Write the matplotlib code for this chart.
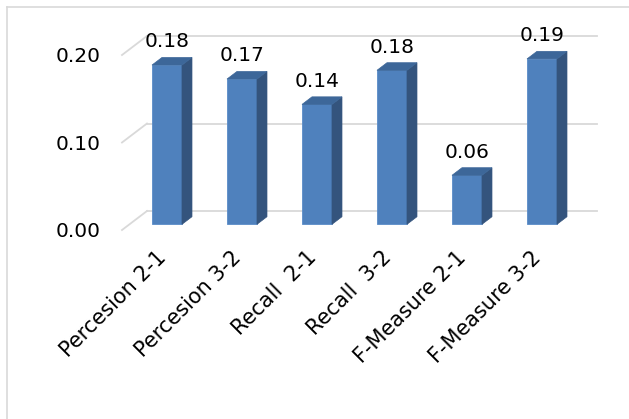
import numpy as np
import matplotlib
matplotlib.use("Agg")
import matplotlib.pyplot as plt
from matplotlib.patches import Polygon
from matplotlib.lines import Line2D

categories = ["Percesion 2-1", "Percesion 3-2", "Recall  2-1", "Recall  3-2",
              "F-Measure 2-1", "F-Measure 3-2"]
values = [0.182, 0.166, 0.137, 0.176, 0.056, 0.189]
yticks = [0.00, 0.10, 0.20]

front_col = "#4F81BD"
side_col = "#34547D"
top_col = "#3D6799"
grid_col = "#D9D9D9"

# oblique "3D" depth of the floor / back wall, in data units
dxd, dyd = 0.333, 0.0217
f0, f1 = 0.3, 0.7          # bar sits between these depth fractions
bw = 0.4

fig = plt.figure(figsize=(6.29, 4.19), dpi=100)
W, H = 629, 419
ax = fig.add_axes([122 / W, (H - 230) / H, 450 / W, 175 / H])
ax.set_xlim(-0.5, 5.5)
ax.set_ylim(0, 0.2)
ax.axis("off")

# back wall gridlines + left slants
for v in yticks:
    ax.plot([-0.5, -0.5 + dxd], [v, v + dyd], color=grid_col, lw=1.3,
            clip_on=False, zorder=1)
    ax.plot([-0.5 + dxd, 5.5 + dxd], [v + dyd, v + dyd], color=grid_col,
            lw=1.3, clip_on=False, zorder=1)
    ax.text(-0.79, v - 0.002, f"{v:.2f}", ha="right", va="center",
            fontsize=14.5, color="black")

x = np.arange(len(categories))
x0 = x + f0 * dxd
b0 = f0 * dyd
ddx = (f1 - f0) * dxd
ddy = (f1 - f0) * dyd

ax.bar(x0, values, width=bw, bottom=b0, color=front_col,
       edgecolor="#5A8CC8", linewidth=0.6, zorder=3, clip_on=False)

for xi, v in zip(x0, values):
    xl, xr = xi - bw / 2, xi + bw / 2
    yt = b0 + v
    side = Polygon([(xr, b0), (xr, yt), (xr + ddx, yt + ddy), (xr + ddx, b0 + ddy)],
                   closed=True, facecolor=side_col, edgecolor=side_col, lw=0.5,
                   zorder=3, clip_on=False)
    top = Polygon([(xl, yt), (xr, yt), (xr + ddx, yt + ddy), (xl + ddx, yt + ddy)],
                  closed=True, facecolor=top_col, edgecolor=top_col, lw=0.5,
                  zorder=3, clip_on=False)
    ax.add_patch(side)
    ax.add_patch(top)
    ax.text(xi, yt + ddy + 0.0115, f"{v:.2f}", ha="center", va="baseline",
            fontsize=14.5, color="black")

for xi, lab in zip(x0, categories):
    ax.text(xi - 0.15, -0.020, lab, rotation=45, rotation_mode="anchor",
            ha="right", va="top", fontsize=15, color="black")

# chart frame (partly cropped in the original)
fig.add_artist(Line2D([7 / W, 7 / W], [0, 1 - 7 / H], color=grid_col, lw=1.2))
fig.add_artist(Line2D([7 / W, 1], [1 - 7 / H, 1 - 7 / H], color=grid_col, lw=1.2))

fig.savefig("out.png", dpi=100)
